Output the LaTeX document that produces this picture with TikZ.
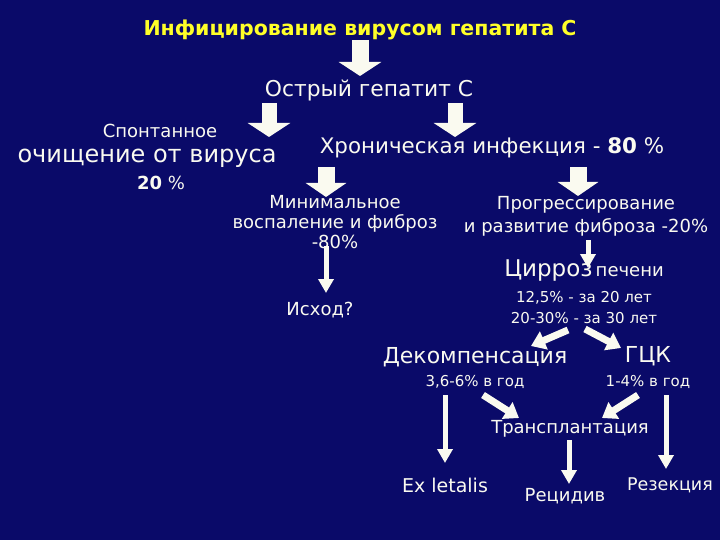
\documentclass[tikz,border=0pt]{standalone}
\usepackage{fontspec}
\setmainfont{DejaVu Sans}
\usetikzlibrary{arrows.meta}
\definecolor{bg}{RGB}{10,10,105}
\definecolor{fg}{RGB}{250,250,240}
\definecolor{ttl}{RGB}{255,255,40}
\newcommand\fsz[2]{\fontsize{#1}{#2}\selectfont}
\begin{document}
\begin{tikzpicture}[x=1pt,y=-1pt,
  txt/.style={inner sep=0pt,text=fg,align=center},
  bigarrow/.style={draw=fg,line width=17pt,-{Triangle[width=42pt,length=14pt]}},
  midarrow/.style={draw=fg,line width=7pt,-{Triangle[width=19pt,length=14pt]}},
  thinarrow/.style={draw=fg,line width=5pt,-{Triangle[width=15pt,length=14pt]}}]
\fill[bg] (0,0) rectangle (720,540);
\useasboundingbox (0,0) rectangle (720,540);
% coordinates for arrows
\coordinate (a1s) at (360,40);  \coordinate (a1e) at (360,76);
\coordinate (a2s) at (269,103); \coordinate (a2e) at (269,137);
\coordinate (a3s) at (455,103); \coordinate (a3e) at (455,137);
\coordinate (a4s) at (326,167); \coordinate (a4e) at (326,197);
\coordinate (a5s) at (578,167); \coordinate (a5e) at (578,196);
\coordinate (t1s) at (588,240); \coordinate (t1e) at (588,268);
\coordinate (t2s) at (326,246); \coordinate (t2e) at (326,293);
\coordinate (d1s) at (568,330); \coordinate (d1e) at (531,346);
\coordinate (d2s) at (585,329); \coordinate (d2e) at (621,348);
\coordinate (d3s) at (483,395); \coordinate (d3e) at (519,418);
\coordinate (d4s) at (638,395); \coordinate (d4e) at (602,418);
\coordinate (v1s) at (445,395); \coordinate (v1e) at (445,463);
\coordinate (v2s) at (666,395); \coordinate (v2e) at (666,469);
\coordinate (v3s) at (569,440); \coordinate (v3e) at (569,484);
% arrows
\draw[bigarrow] (a1s) -- (a1e);
\draw[bigarrow,line width=15pt] (a2s) -- (a2e);
\draw[bigarrow,line width=15pt] (a3s) -- (a3e);
\draw[bigarrow,line width=17pt,-{Triangle[width=40pt,length=14pt]}] (a4s) -- (a4e);
\draw[bigarrow,line width=17pt,-{Triangle[width=40pt,length=14pt]}] (a5s) -- (a5e);
\draw[thinarrow] (t1s) -- (t1e);
\draw[thinarrow] (t2s) -- (t2e);
\draw[midarrow] (d1s) -- (d1e);
\draw[midarrow] (d2s) -- (d2e);
\draw[midarrow] (d3s) -- (d3e);
\draw[midarrow] (d4s) -- (d4e);
\draw[thinarrow] (v1s) -- (v1e);
\draw[thinarrow] (v2s) -- (v2e);
\draw[thinarrow] (v3s) -- (v3e);
% texts
\node[txt,text=ttl,font=\fsz{20.5}{23}\bfseries] (title) at (360,30) {Инфицирование вирусом гепатита С};
\node[txt,font=\fsz{21.8}{25}] (acute) at (369,90) {Острый гепатит С};
\node[txt,font=\fsz{18}{21}] (spont) at (160,131) {Спонтанное};
\node[txt,font=\fsz{24}{27}] (ochish) at (147,158) {очищение от вируса};
\node[txt,font=\fsz{18}{21}] (p20) at (161,183) {\textbf{20} \%};
\node[txt,font=\fsz{21.4}{24}] (chron) at (492,148) {Хроническая инфекция - \textbf{80} \%};
\node[txt,font=\fsz{18}{20}] (minim) at (335,222) {Минимальное\\воспаление и фиброз\\-80\%};
\node[txt,font=\fsz{18}{23}] (progr) at (586,216) {Прогрессирование\\и развитие фиброза -20\%};
\node[txt] (cirr) at (584,271) {{\fsz{23}{26}Цирроз} {\fsz{18}{21}печени}};
\node[txt,font=\fsz{15}{21}] (stat) at (584,308) {12,5\% - за 20 лет\\20-30\% - за 30 лет};
\node[txt,font=\fsz{18}{21}] (ishod) at (320,310) {Исход?};
\node[txt,font=\fsz{22}{25}] (decomp) at (475,357) {Декомпенсация};
\node[txt,font=\fsz{22}{25}] (gck) at (648,356) {ГЦК};
\node[txt,font=\fsz{15}{18}] (d36) at (475,382) {3,6-6\% в год};
\node[txt,font=\fsz{15}{18}] (g14) at (648,382) {1-4\% в год};
\node[txt,font=\fsz{18}{21}] (transp) at (570,429) {Трансплантация};
\node[txt,font=\fsz{19}{22}] (exl) at (445,485) {Ex letalis};
\node[txt,font=\fsz{18}{21}] (recid) at (565,496) {Рецидив};
\node[txt,font=\fsz{17.5}{20}] (rezek) at (670,485) {Резекция};
\end{tikzpicture}
\end{document}
